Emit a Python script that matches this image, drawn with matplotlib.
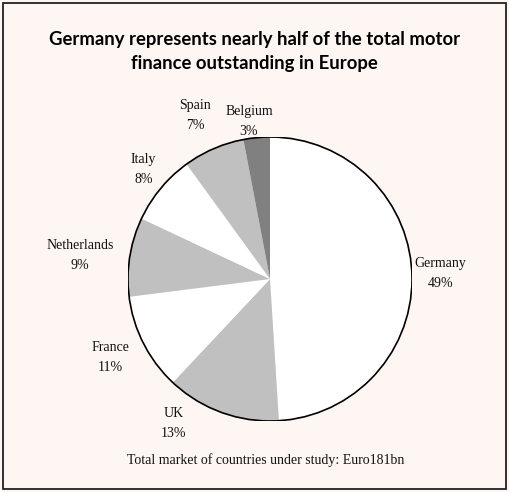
import numpy as np
import matplotlib.pyplot as plt
from matplotlib.patches import Rectangle

countries = ["Germany", "UK", "France", "Netherlands", "Italy", "Spain", "Belgium"]
shares = [49, 13, 11, 9, 8, 7, 3]
colors = ["#ffffff", "#c0c0c0", "#ffffff", "#c0c0c0", "#ffffff", "#c0c0c0", "#808080"]
# label placement: distance from centre (radii) and angle nudge (deg)
label_dist = [1.20, 1.22, 1.25, 1.35, 1.18, 1.27, 1.12]
label_turn = [0.2, -13.9, -0.9, 2.0, -1.3, 1.2, 2.2]

title = "Germany represents nearly half of the total motor\nfinance outstanding in Europe"
note = "Total market of countries under study: Euro181bn"

bg = "#fdf6f2"
W, H = 509, 492
fig = plt.figure(figsize=(W / 100, H / 100), dpi=100, facecolor=bg)

# border round the whole picture
fig.patches.append(Rectangle((3 / W, 3 / H), 503 / W, 486 / H, transform=fig.transFigure,
                             fill=False, edgecolor="#222222", linewidth=1.3))

cx, cy, r = 270, 279, 142
ax = fig.add_axes([(cx - r) / W, (H - cy - r) / H, 2 * r / W, 2 * r / H])
ax.set_facecolor("none")

wedges, _ = ax.pie(shares, colors=colors, startangle=90, counterclock=False,
                   wedgeprops=dict(linewidth=0))
# outline only on the circle
ax.add_patch(plt.Circle((0, 0), 1, fill=False, edgecolor="black", linewidth=1.2))
ax.set_xlim(-1, 1)
ax.set_ylim(-1, 1)
ax.set_aspect("equal")
ax.axis("off")

for w, name, s, d, t in zip(wedges, countries, shares, label_dist, label_turn):
    ang = np.deg2rad((w.theta1 + w.theta2) / 2 + t)
    ax.text(d * np.cos(ang), d * np.sin(ang), f"{name}\n{s}%", ha="center", va="center",
            family="Liberation Serif", fontsize=10, linespacing=1.7, color="#111111")

fig.text(0.5, 1 - 51 / H, title, ha="center", va="center", family="Lato",
         fontweight="bold", fontsize=13.3, linespacing=1.5, color="black")
fig.text(266 / W, 1 - 460 / H, note, ha="center", va="center", family="Liberation Serif",
         fontsize=10, color="#111111")

fig.savefig("out.png", dpi=100, facecolor=bg)
